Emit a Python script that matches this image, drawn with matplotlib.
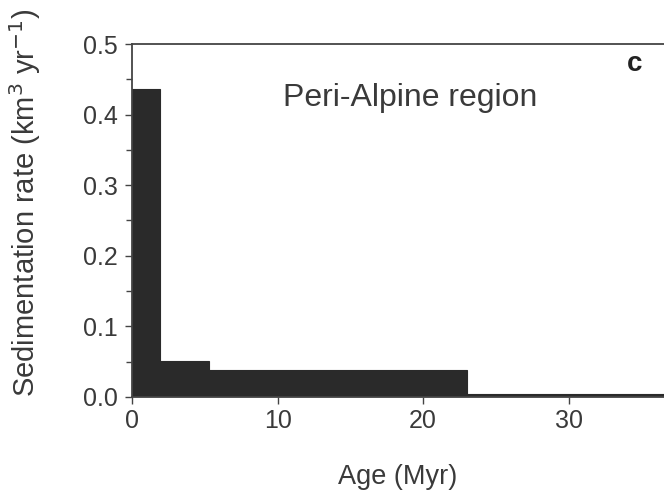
import matplotlib
matplotlib.use("Agg")
import matplotlib.pyplot as plt
from matplotlib.ticker import MultipleLocator

plt.rcParams['font.family'] = ['Liberation Sans', 'DejaVu Sans']

# Age bin boundaries (Myr) and sedimentation rates (km^3/yr)
bin_edges = [0.0, 1.9, 5.3, 23.0, 40.0]
rates = [0.436, 0.051, 0.038, 0.004]
x_ticks = [0, 10, 20, 30]
y_ticks = [0.0, 0.1, 0.2, 0.3, 0.4, 0.5]

fig = plt.figure(figsize=(6.64, 4.96), dpi=100)
ax = fig.add_axes([0.199, 0.2, 0.801, 0.711])

lefts = bin_edges[:-1]
widths = [b - a for a, b in zip(bin_edges[:-1], bin_edges[1:])]
ax.bar(lefts, rates, width=widths, align='edge', color='#2a2a2a',
       edgecolor='#2a2a2a', linewidth=0.8)

ax.set_xlim(0, 36.55)
ax.set_ylim(0, 0.5)
ax.set_xticks(x_ticks)
ax.set_yticks(y_ticks)
ax.set_yticklabels([f"{v:.1f}" for v in y_ticks])
ax.yaxis.set_minor_locator(MultipleLocator(0.05))

txt = '#3a3a3a'
for s in ['left', 'bottom', 'top']:
    ax.spines[s].set_color('#444444')
    ax.spines[s].set_linewidth(1.3)
ax.spines['right'].set_visible(False)

ax.tick_params(axis='both', which='major', direction='out', length=5,
               width=1.0, color='#444444', labelsize=18, labelcolor=txt, pad=5)
ax.tick_params(axis='x', which='major', pad=4)
ax.tick_params(axis='y', which='minor', direction='out', length=4,
               width=1.0, color='#444444')

ax.set_xlabel('Age (Myr)', fontsize=19.5, color=txt, labelpad=22)
ax.set_ylabel('Sedimentation rate (km$^3$ yr$^{-1}$)', fontsize=21,
              color=txt)
ax.yaxis.set_label_coords(-0.167, 0.55)

ax.text(0.523, 0.847, 'Peri-Alpine region', transform=ax.transAxes,
        fontsize=23, color=txt, ha='center', va='center')
ax.text(0.945, 0.945, 'c', transform=ax.transAxes, fontsize=20,
        fontweight='bold', color='#222222', ha='center', va='center')

fig.savefig('out.png', dpi=100)
